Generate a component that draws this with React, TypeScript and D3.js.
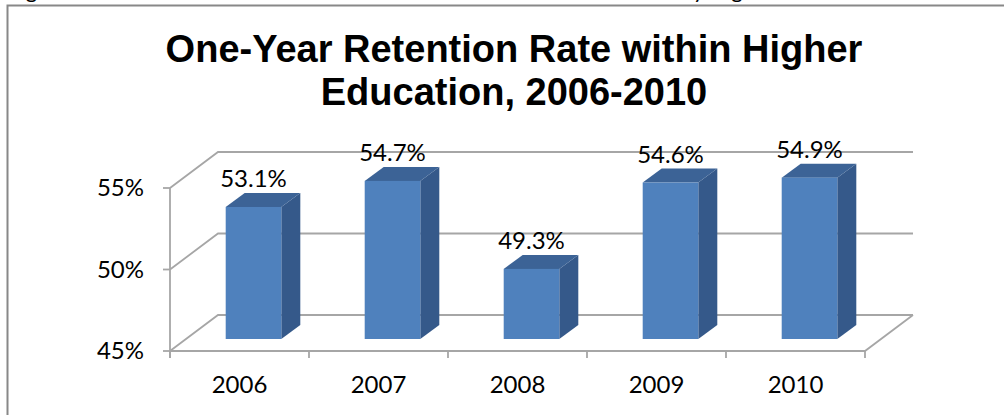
import React from 'react';
import * as d3 from 'd3';

const categories = ['2006', '2007', '2008', '2009', '2010'];
const values = [53.1, 54.7, 49.3, 54.6, 54.9];
const yTicks = [45, 50, 55];
const titleLines = ['One-Year Retention Rate within Higher', 'Education, 2006-2010'];
const captionText = 'Figure 2. One-Year Retention Rates of Southern Nevada Students to Any Higher Education';

const W = 1004;
const H = 415;
const DX = 48; // floor depth
const DY = -36;
const FRONT = 1 / 3; // bar front face depth fraction
const BDX = 19; // bar depth
const BDY = -14;

const labelFont = 'Lato, "Open Sans", sans-serif';

export default function App() {
  const x = d3.scaleBand<string>().domain(categories).range([170, 865]);
  const y = d3.scaleLinear().domain([45, 55]).range([351, 188]);
  const fmt = (v: number) => d3.format('.1f')(v) + '%';
  const barW = x.bandwidth() * 0.4;
  const x0 = 170;
  const x1 = 865;
  const yBase = y(45);
  const gridColor = '#a6a6a6';

  return (
    <svg width={W} height={H} style={{ position: 'absolute', left: 0, top: 0, background: '#fff' }}>
      <rect x={7.5} y={5.5} width={1100} height={600} fill="#fff" stroke="#888" strokeWidth={2} />
      <text x={8} y={-2} fontFamily={labelFont} fontSize={22} fill="#000">{captionText}</text>

      {titleLines.map((t, i) => (
        <text key={t} x={514} y={62 + i * 43} textAnchor="middle" fontFamily='"Liberation Sans", Arial, sans-serif' fontWeight="bold" fontSize={38} fill="#000">
          {t}
        </text>
      ))}

      {/* gridlines with side wall diagonals */}
      {yTicks.map((t) => (
        <polyline
          key={t}
          points={`${x0},${y(t)} ${x0 + DX},${y(t) + DY} ${x1 + DX},${y(t) + DY}`}
          fill="none"
          stroke={gridColor}
          strokeWidth={1.8}
        />
      ))}
      {/* floor front & right edges */}
      <polyline points={`${x0},${yBase} ${x1},${yBase} ${x1 + DX},${yBase + DY}`} fill="none" stroke={gridColor} strokeWidth={1.8} />
      {/* vertical axis */}
      <line x1={x0} x2={x0} y1={y(55)} y2={yBase + 7} stroke={gridColor} strokeWidth={1.8} />
      {yTicks.map((t) => (
        <g key={'yt' + t}>
          <line x1={x0 - 7} x2={x0} y1={y(t)} y2={y(t)} stroke={gridColor} strokeWidth={1.8} />
          <text x={144} y={y(t) + 8} textAnchor="end" fontFamily={labelFont} fontSize={24} fill="#000">
            {t}%
          </text>
        </g>
      ))}
      {categories.concat(['end']).map((c, i) => {
        const xx = i < categories.length ? (x(c) as number) : x1;
        return <line key={'xt' + i} x1={xx} x2={xx} y1={yBase} y2={yBase + 7} stroke={gridColor} strokeWidth={1.8} />;
      })}
      {categories.map((c) => (
        <text key={'xl' + c} x={(x(c) as number) + x.bandwidth() / 2} y={393} textAnchor="middle" fontFamily={labelFont} fontSize={24} fill="#000">
          {c}
        </text>
      ))}

      {/* bars */}
      {categories.map((c, i) => {
        const v = values[i];
        const cx = (x(c) as number) + x.bandwidth() / 2 + DX * FRONT - 2;
        const l = cx - barW / 2;
        const r = cx + barW / 2;
        const b = yBase + DY * FRONT;
        const t = y(v) + DY * FRONT;
        return (
          <g key={'bar' + c}>
            <polygon points={`${r},${t} ${r + BDX},${t + BDY} ${r + BDX},${b + BDY} ${r},${b}`} fill="#35598a" />
            <polygon points={`${l},${t} ${l + BDX},${t + BDY} ${r + BDX},${t + BDY} ${r},${t}`} fill="#3c6396" />
            <rect x={l} y={t} width={barW} height={b - t} fill="#4f81bd" />
            <text x={cx} y={t + BDY - 6} textAnchor="middle" fontFamily={labelFont} fontSize={24} fill="#000">
              {fmt(v)}
            </text>
          </g>
        );
      })}
    </svg>
  );
}
